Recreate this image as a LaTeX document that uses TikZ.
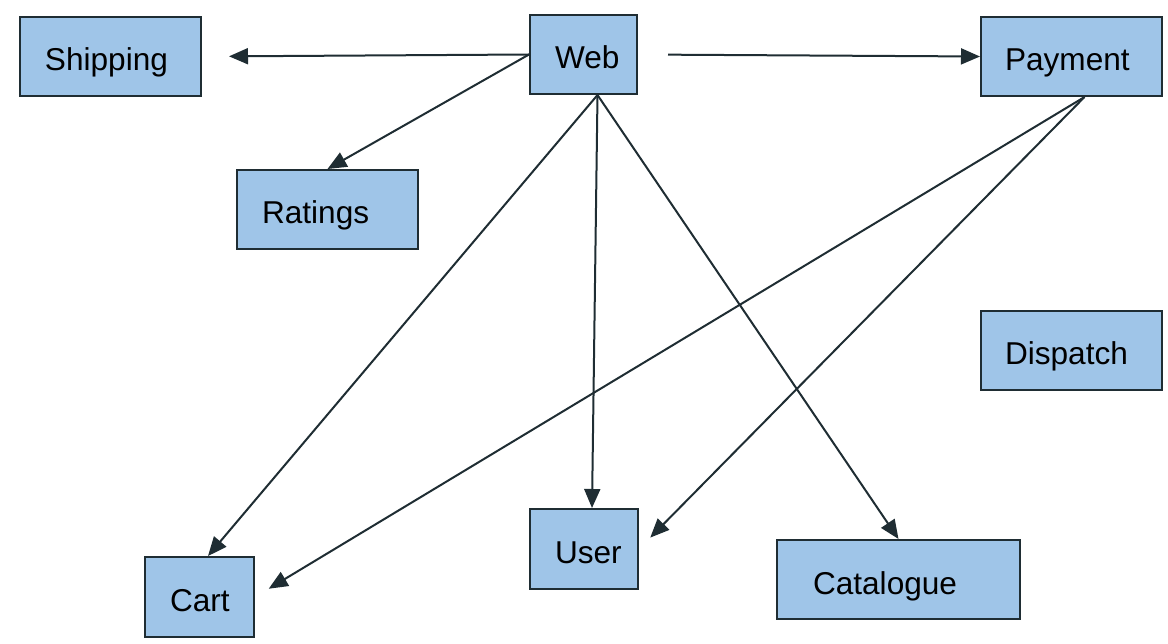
\documentclass[tikz,border=0pt]{standalone}
\usepackage{fontspec}
\setmainfont{Liberation Sans}
\usetikzlibrary{arrows.meta}
\definecolor{boxfill}{HTML}{9FC5E8}
\definecolor{edgecol}{HTML}{1F2D33}
\begin{document}
\begin{tikzpicture}[x=1pt,y=-1pt,
  box/.style={draw=edgecol,line width=2pt,fill=boxfill,rectangle,
    minimum height=79pt,inner ysep=0pt,align=left,
    font=\fontsize{31.6}{31.6}\selectfont,text height=29pt,text depth=0pt},
  conn/.style={draw=edgecol,line width=2pt,-{Triangle[length=19pt,width=16pt]}}]
\useasboundingbox (0,0) rectangle (1168,644);
\node[box,inner xsep=25pt,text width=131pt] (ship) at (110.5,56.5) {Shipping};
\node[box,inner xsep=25pt,text width=57pt] (web) at (583.5,54.5) {Web};
\node[box,inner xsep=24pt,text width=133pt] (pay) at (1071.5,56.5) {Payment};
\node[box,inner xsep=25pt,text width=131pt] (rat) at (327.5,209.5) {Ratings};
\node[box,inner xsep=24pt,text width=133pt] (disp) at (1071.5,350.5) {Dispatch};
\node[box,inner xsep=25pt,text width=59pt,minimum height=80pt] (cart) at (199.5,597) {Cart};
\node[box,inner xsep=25pt,text width=58pt,minimum height=80pt] (user) at (584,549) {User};
\node[box,inner xsep=36pt,text width=171pt] (cat) at (898.5,579.5) {Catalogue};
\coordinate (wbs) at ([xshift=14pt]web.south);
\coordinate (pbs) at ([xshift=13pt]pay.south);
\draw[conn,shorten >=27pt] (web.west) -- (ship.east);
\draw[conn,shorten <=30pt] (web.east) -- (pay.west);
\draw[conn] (web.west) -- (rat.north);
\draw[conn] (wbs) -- ([xshift=8.5pt]cart.north);
\draw[conn] (wbs) -- ([xshift=8pt]user.north);
\draw[conn] (wbs) -- (cat.north);
\draw[conn,shorten >=16pt] (pbs) -- (cart.east);
\draw[conn,shorten >=16pt] (pbs) -- (user.east);
\end{tikzpicture}
\end{document}
